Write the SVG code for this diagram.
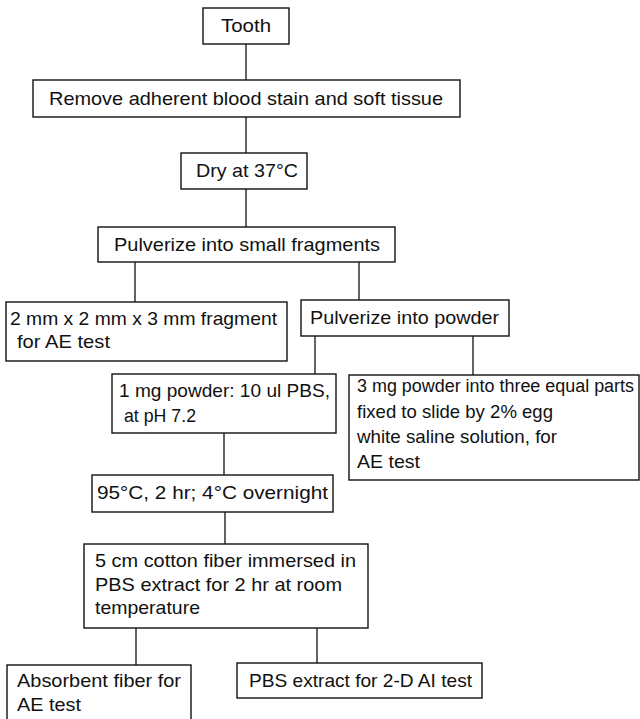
<svg xmlns="http://www.w3.org/2000/svg" width="640" height="719" viewBox="0 0 640 719">
<style>
  .box { fill: #ffffff; stroke: #111111; stroke-width: 1.4; }
  .conn line { stroke: #111111; stroke-width: 1.3; }
  text { font-family: "Liberation Sans", Arial, Helvetica, sans-serif; font-size: 19px; fill: #111111; }
  .tight { font-size: 18px; }
</style>
<rect width="640" height="719" fill="#ffffff"/>
<g id="connectors" class="conn">
  <line x1="246" y1="44" x2="246" y2="80"/>
  <line x1="246" y1="117" x2="246" y2="153"/>
  <line x1="246" y1="189" x2="246" y2="227"/>
  <line x1="135" y1="262" x2="135" y2="302"/>
  <line x1="359" y1="262" x2="359" y2="300"/>
  <line x1="315" y1="336" x2="315" y2="374"/>
  <line x1="473" y1="336" x2="473" y2="375"/>
  <line x1="224" y1="433" x2="224" y2="475"/>
  <line x1="225" y1="512" x2="225" y2="544"/>
  <line x1="136" y1="628" x2="136" y2="665"/>
  <line x1="317" y1="628" x2="317" y2="663"/>
</g>
<g id="tooth">
  <rect class="box" x="203" y="8" width="86" height="36"/>
  <text x="221" y="32" textLength="50" lengthAdjust="spacingAndGlyphs">Tooth</text>
</g>
<g id="remove">
  <rect class="box" x="33" y="80" width="427" height="37"/>
  <text x="49" y="105" textLength="394" lengthAdjust="spacingAndGlyphs">Remove adherent blood stain and soft tissue</text>
</g>
<g id="dry">
  <rect class="box" x="181" y="153" width="126" height="36"/>
  <text x="196" y="177" textLength="102" lengthAdjust="spacingAndGlyphs">Dry at 37°C</text>
</g>
<g id="pulverize-fragments">
  <rect class="box" x="98" y="227" width="297" height="35"/>
  <text x="114" y="251" textLength="266" lengthAdjust="spacingAndGlyphs">Pulverize into small fragments</text>
</g>
<g id="fragment-ae">
  <rect class="box" x="6" y="302" width="281" height="59"/>
  <text x="10" y="325" textLength="267" lengthAdjust="spacingAndGlyphs">2 mm x 2 mm x 3 mm fragment</text>
  <text x="17" y="348" textLength="93" lengthAdjust="spacingAndGlyphs">for AE test</text>
</g>
<g id="pulverize-powder">
  <rect class="box" x="301" y="300" width="208" height="36"/>
  <text x="310" y="324" textLength="189" lengthAdjust="spacingAndGlyphs">Pulverize into powder</text>
</g>
<g id="pbs-mix">
  <rect class="box" x="112" y="374" width="224" height="59"/>
  <text x="119" y="397" textLength="211" lengthAdjust="spacingAndGlyphs">1 mg powder: 10 ul PBS,</text>
  <text x="124" y="422" textLength="72" lengthAdjust="spacingAndGlyphs">at pH 7.2</text>
</g>
<g id="slide-ae">
  <rect class="box" x="349" y="375" width="290" height="105"/>
  <text class="tight" x="357" y="392" textLength="277" lengthAdjust="spacingAndGlyphs">3 mg powder into three equal parts</text>
  <text x="357" y="418" textLength="196" lengthAdjust="spacingAndGlyphs">fixed to slide by 2% egg</text>
  <text x="357" y="443" textLength="200" lengthAdjust="spacingAndGlyphs">white saline solution, for</text>
  <text x="357" y="468" textLength="63" lengthAdjust="spacingAndGlyphs">AE test</text>
</g>
<g id="heat">
  <rect class="box" x="92" y="475" width="241" height="37"/>
  <text x="97" y="499" textLength="231" lengthAdjust="spacingAndGlyphs">95°C, 2 hr; 4°C overnight</text>
</g>
<g id="cotton">
  <rect class="box" x="84" y="544" width="284" height="84"/>
  <text x="95" y="567" textLength="261" lengthAdjust="spacingAndGlyphs">5 cm cotton fiber immersed in</text>
  <text x="95" y="591" textLength="247" lengthAdjust="spacingAndGlyphs">PBS extract for 2 hr at room</text>
  <text x="95" y="614" textLength="105" lengthAdjust="spacingAndGlyphs">temperature</text>
</g>
<g id="absorbent">
  <rect class="box" x="7" y="665" width="184" height="70"/>
  <text x="17" y="687" textLength="164" lengthAdjust="spacingAndGlyphs">Absorbent fiber for</text>
  <text x="17" y="711" textLength="64" lengthAdjust="spacingAndGlyphs">AE test</text>
</g>
<g id="pbs-extract">
  <rect class="box" x="237" y="663" width="245" height="35"/>
  <text x="249" y="687" textLength="223" lengthAdjust="spacingAndGlyphs">PBS extract for 2-D AI test</text>
</g>
</svg>
